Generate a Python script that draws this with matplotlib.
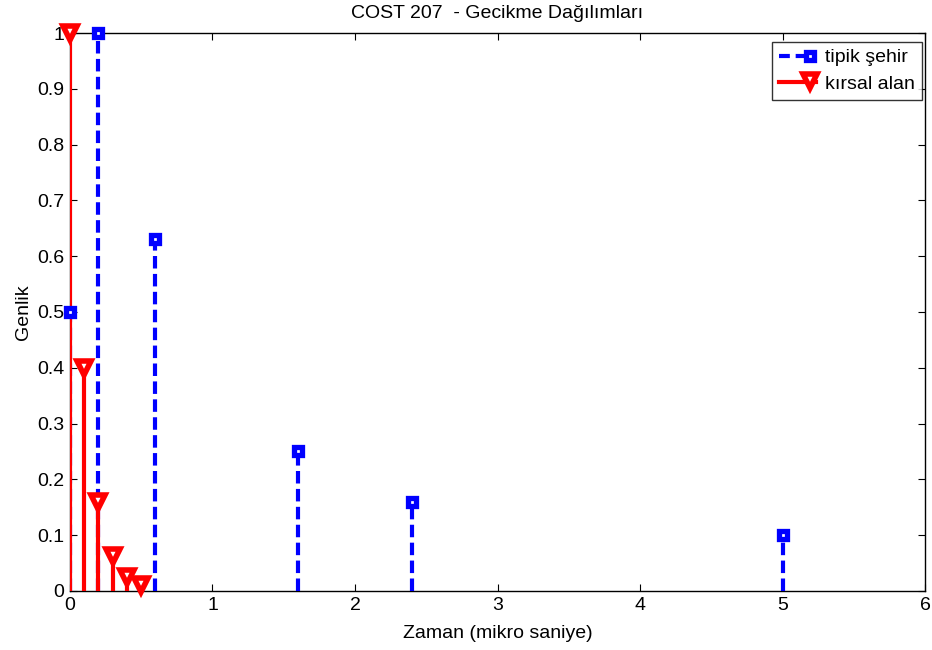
import matplotlib.pyplot as plt
from matplotlib.lines import Line2D
from matplotlib.legend_handler import HandlerBase

plt.rcParams["font.family"] = ["Liberation Sans", "DejaVu Sans"]

# COST 207 delay profiles (microseconds, relative amplitude)
urban_delay = [0.0, 0.2, 0.6, 1.6, 2.4, 5.0]
urban_amp = [0.5, 1.0, 0.63, 0.25, 0.16, 0.1]
rural_delay = [0.0, 0.1, 0.2, 0.3, 0.4, 0.5]
rural_amp = [1.0, 0.4, 0.16, 0.063, 0.025, 0.01]

xticks = [0, 1, 2, 3, 4, 5, 6]
yticks = [0, 0.1, 0.2, 0.3, 0.4, 0.5, 0.6, 0.7, 0.8, 0.9, 1.0]
ytick_labels = ["0", "0.1", "0.2", "0.3", "0.4", "0.5", "0.6", "0.7", "0.8", "0.9", "1"]

BLUE = "#0000ff"
RED = "#ff0000"


class StemHandler(HandlerBase):
    # matlab-style legend entry: line, marker at the right end
    def create_artists(self, legend, orig, xdescent, ydescent, width, height,
                       fontsize, trans):
        y = height / 2 - ydescent
        x0, x1 = -xdescent, -xdescent + width
        line = Line2D([x0, x1], [y, y])
        line.update_from(orig)
        line.set_marker("None")
        mark = Line2D([x1 - 4], [y + (1 if orig.get_marker() == "v" else 0)])
        mark.update_from(orig)
        mark.set_linestyle("None")
        line.set_transform(trans)
        mark.set_transform(trans)
        return [line, mark]


fig = plt.figure(figsize=(9.32, 6.5), dpi=100)
ax = fig.add_axes([0.0751, 0.0908, 0.9174, 0.8584])

sq_style = dict(marker="s", markersize=5.6, markerfacecolor="white",
                markeredgecolor=BLUE, markeredgewidth=3.8)
tri_style = dict(marker="v", markersize=10, markerfacecolor="white",
                 markeredgecolor=RED, markeredgewidth=4.0)

# typical urban: dashed blue stems with square markers
ax.vlines(urban_delay, 0, urban_amp, colors=BLUE, linestyles=(0, (3, 1.3)),
          linewidth=3, zorder=3)
ax.plot(urban_delay, urban_amp, linestyle="none", zorder=4, clip_on=False,
        **sq_style)

# rural: solid red stems with downward triangles
ax.vlines(rural_delay, 0, rural_amp, colors=RED, linewidth=3, zorder=3)
ax.plot(rural_delay, rural_amp, linestyle="none", zorder=4, clip_on=False,
        **tri_style)

ax.set_xlim(0, 6)
ax.set_ylim(0, 1)
ax.set_xticks(xticks)
ax.set_yticks(yticks)
ax.set_yticklabels(ytick_labels)
ax.tick_params(direction="in", length=5, labelsize=14, top=True, right=True, pad=4)
for s in ax.spines.values():
    s.set_linewidth(1.0)

ax.set_xlabel("Zaman (mikro saniye)", fontsize=14, labelpad=8)
ax.set_ylabel("Genlik", fontsize=14, labelpad=4)
ax.set_title("COST 207  - Gecikme Dağılımları", fontsize=14, pad=11)

handles = [
    Line2D([], [], color=BLUE, linestyle=(0, (2.6, 1.4)), linewidth=3, **sq_style),
    Line2D([], [], color=RED, linewidth=3, **tri_style),
]
leg = ax.legend(handles, ["tipik şehir", "kırsal alan"], loc="upper right",
                bbox_to_anchor=(0.9965, 0.9839), borderaxespad=0.0,
                fontsize=14, fancybox=False, edgecolor="black",
                handlelength=1.9, borderpad=0.35,
                handletextpad=0.5, labelspacing=0.45,
                handler_map={Line2D: StemHandler()})
leg.get_frame().set_linewidth(1.0)

fig.savefig("out.png", dpi=100)
